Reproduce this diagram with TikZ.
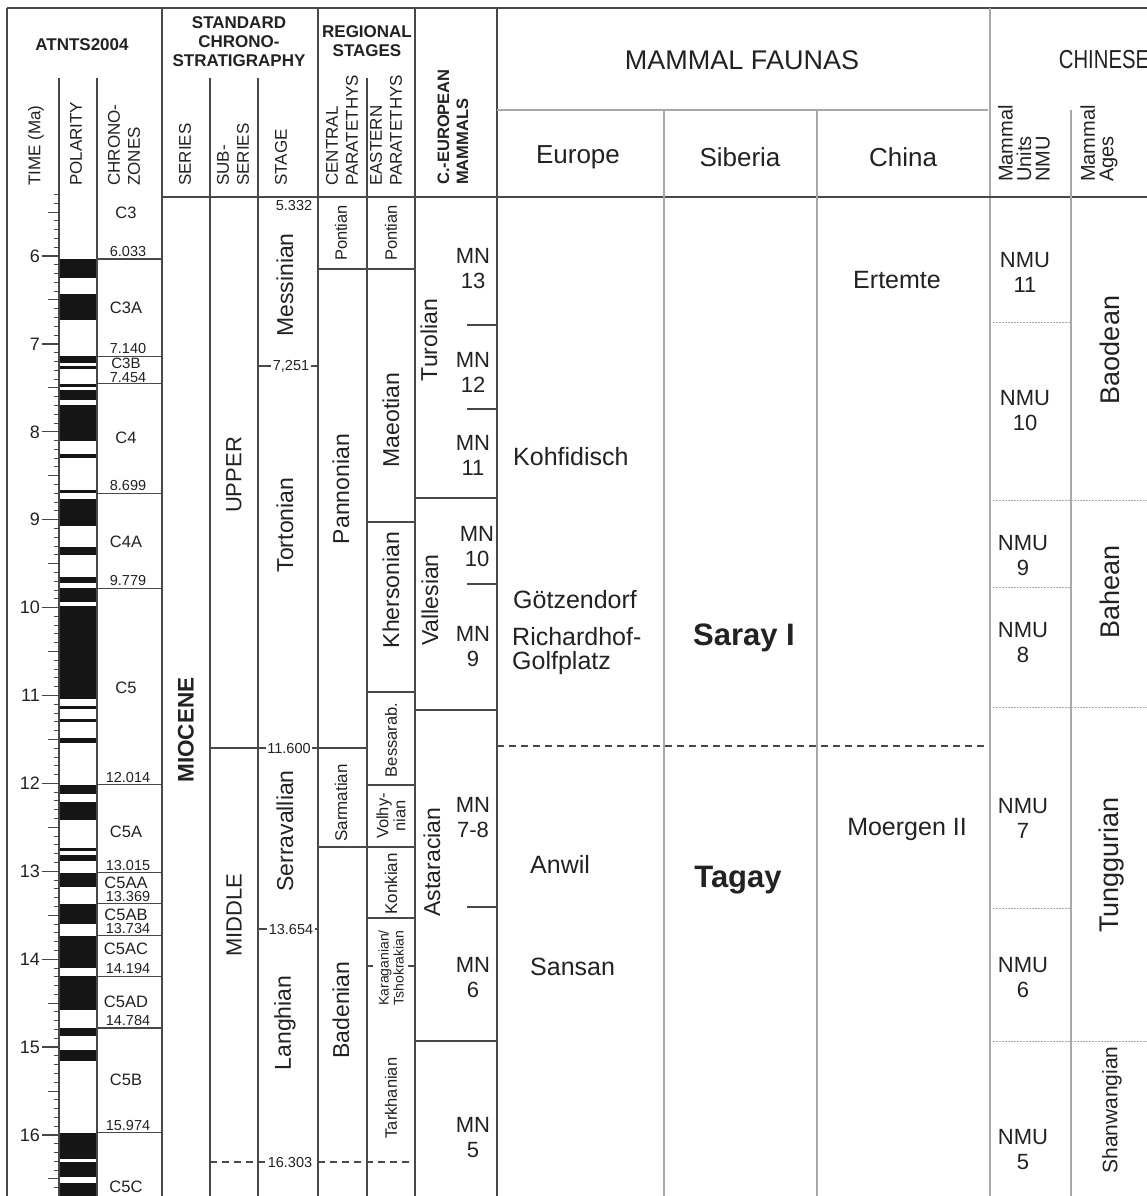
\documentclass[tikz,border=0pt]{standalone}
\usepackage{fontspec}
\setmainfont{Liberation Sans}
\definecolor{lc}{HTML}{484848}
\definecolor{lg}{HTML}{A8A8A8}
\definecolor{tc}{HTML}{222222}
\definecolor{pc}{HTML}{151515}
\newcommand\fz[2]{\fontsize{#1}{#2}\selectfont}
\newcommand\tpos[1]{(256+(#1-6)*87.9)}
\begin{document}
\begin{tikzpicture}[x=1pt,y=-1pt,
  ln/.style={draw=lc,line width=1.3pt},
  lgl/.style={draw=lg,line width=1.6pt},
  dotl/.style={draw=lg,line width=1pt,dash pattern=on 1.5pt off 1.5pt},
  dsh/.style={draw=lc,line width=1.3pt,dash pattern=on 7pt off 5pt},
  txt/.style={text=tc,inner sep=0pt,align=center},
  hb/.style={txt,font=\bfseries\fz{17}{19}},
  hv/.style={txt,rotate=90,anchor=west,align=left,font=\fz{17}{20}},
  num/.style={txt,anchor=base,font=\fz{14.5}{15}},
  chr/.style={txt,font=\fz{16.5}{18}},
  tl/.style={txt,anchor=east,font=\fz{18}{18}},
  big/.style={txt,rotate=90,font=\fz{23}{24}},
  sml/.style={txt,rotate=90,font=\fz{16.5}{17}},
  mn/.style={txt,font=\fz{22}{25}},
  fa/.style={txt,font=\fz{25}{27}},
  fab/.style={txt,font=\bfseries\fz{31}{33}},
  age/.style={txt,rotate=90,font=\fz{27}{28}},
  cnd/.style={txt,rotate=90,anchor=west,align=left,font=\fz{20}{18.5}},
  lab/.style={txt,fill=white,inner xsep=1.5pt,inner ysep=0pt,font=\fz{14.5}{15}}
]
\useasboundingbox (0,0) rectangle (1147,1196);
\fill[white] (0,0) rectangle (1147,1196);

% ---------- polarity ----------
\foreach \a/\b in {6.033/6.252,6.436/6.733,7.140/7.212,7.251/7.285,7.454/7.489,7.528/7.642,7.695/8.108,8.254/8.300,8.661/8.699,8.769/9.070,9.31/9.40,9.65/9.72,9.779/9.934,9.987/11.040,11.118/11.154,11.27/11.30,11.48/11.54,12.014/12.116,12.207/12.415,12.730/12.765,12.820/12.878,13.015/13.183,13.369/13.605,13.734/14.095,14.194/14.581,14.784/14.877,15.032/15.160,15.974/16.268,16.303/16.472,16.543/16.75}
  \fill[pc] (59,{\tpos{\a}}) rectangle (97,{\tpos{\b}});

% ---------- time ticks ----------
\foreach \i in {53,...,167} \draw[lc,line width=1pt] (54,{\tpos{\i/10}}) -- (59,{\tpos{\i/10}});
\foreach \t in {5.5,6.5,7.5,8.5,9.5,10.5,11.5,12.5,13.5,14.5,15.5,16.5} \draw[lc,line width=1pt] (48,{\tpos{\t}}) -- (59,{\tpos{\t}});
\foreach \t in {6,...,16} {
  \draw[lc,line width=1.3pt] (42,{\tpos{\t}}) -- (59,{\tpos{\t}});
  \node[tl] (tk\t) at (40,{\tpos{\t}}) {\t};
}

% ---------- frame ----------
\draw[ln] (7,8) -- (1147,8);
\draw[ln] (7,8) -- (7,1196);
\draw[ln] (162,8) -- (162,1196);
\draw[ln] (318,8) -- (318,1196);
\draw[ln] (415,8) -- (415,1196);
\draw[ln] (497,8) -- (497,1196);
\draw[lgl] (990,8) -- (990,1196);
\draw[ln] (59,78) -- (59,1196);
\draw[ln] (97,78) -- (97,1196);
\draw[ln] (210,78) -- (210,1196);
\draw[ln] (258,78) -- (258,1196);
\draw[ln] (367,78) -- (367,1196);
\draw[ln] (162,197) -- (1147,197);
\draw[lgl] (497,110) -- (988,110);
\draw[lgl] (664,110) -- (664,1196);
\draw[lgl] (817,110) -- (817,1196);
\draw[lgl] (1071,110) -- (1071,1196);

% ---------- header texts ----------
\node[hb] (hatn) at (82,45) {ATNTS2004};
\node[hb] (hstd) at (239,42) {STANDARD\\CHRONO-\\STRATIGRAPHY};
\node[hb] (hreg) at (367,41) {REGIONAL\\STAGES};
\node[hv] (htime) at (36,186) {TIME (Ma)};
\node[hv] (hpol) at (76,186) {POLARITY};
\node[hv] (hchr) at (124,186) {CHRONO-\\ZONES};
\node[hv] (hser) at (185,186) {SERIES};
\node[hv] (hsub) at (233,186) {SUB-\\SERIES};
\node[hv] (hstg) at (281,186) {STAGE};
\node[hv] (hcp) at (342,186) {CENTRAL\\PARATETHYS};
\node[hv] (hep) at (386,186) {EASTERN\\PARATETHYS};
\node[txt,rotate=90,anchor=west,align=left,font=\bfseries\fz{16.5}{19}] (hcem) at (453,185) {C.-EUROPEAN\\MAMMALS};
\node[txt,font=\fz{27}{28}] (hmf) at (742,60) {MAMMAL FAUNAS};
\node[txt,font=\fz{26}{28}] (hchn) at (1104,60) {\scalebox{0.78}[1]{CHINESE}};
\node[txt,font=\fz{26}{28}] (heu) at (578,157) {Europe};
\node[txt,font=\fz{26}{28}] (hsi) at (740,157) {Siberia};
\node[txt,font=\fz{26}{28}] (hch) at (903,157) {China};
\node[cnd] (hnmu) at (1024,182) {Mammal\\Units\\NMU};
\node[cnd] (hage) at (1099,182) {Mammal\\Ages};

% ---------- chronozones ----------
\foreach \t [count=\k] in {6.033,7.140,8.699,9.779,12.014,13.015,13.369,13.734,14.194,14.784,15.974} {
  \draw[ln] (97,{\tpos{\t}}) -- (162,{\tpos{\t}});
  \node[num] (cn\k) at (128,{\tpos{\t}-2.5}) {\t};
}
\draw[ln] (97,{\tpos{7.454}}) -- (162,{\tpos{7.454}});
\node[num] (cnb) at (128,{\tpos{7.454}-1}) {7.454};
\foreach \n/\y [count=\k] in {C3/213,C3A/308,C4/438,C4A/542,C5/688,C5A/832,C5AA/883,C5AB/915,C5AC/949,C5AD/1002,C5B/1080,C5C/1187}
  \node[chr] (cz\k) at (126,\y) {\n};
\node[chr,font=\fz{15}{16}] (czb) at (126,363) {C3B};

% ---------- series / subseries / stage ----------
\node[txt,rotate=90,font=\bfseries\fz{22.5}{24}] (miocene) at (186,730) {MIOCENE};
\node[txt,rotate=90,font=\fz{22}{24}] (upper) at (234,475) {UPPER};
\node[txt,rotate=90,font=\fz{22}{24}] (middle) at (234,915) {MIDDLE};
\node[lab] (a5332) at (294,206) {5.332};
\draw[ln] (258,366) -- (318,366);
\node[lab] (a7251) at (291,366) {7,251};
\draw[ln] (210,748) -- (367,748);
\node[lab] (a11600) at (289,748) {11.600};
\draw[ln] (258,929) -- (318,929);
\node[lab] (a13654) at (291,929) {13.654};
\draw[dsh] (210,1162) -- (415,1162);
\node[lab] (a16303) at (290,1162) {16.303};
\node[big] (messinian) at (285,285) {Messinian};
\node[big] (tortonian) at (285,525) {Tortonian};
\node[big] (serravallian) at (285,831) {Serravallian};
\node[big] (langhian) at (285,1023) {Langhian};

% ---------- regional stages ----------
\draw[ln] (318,269) -- (415,269);
\draw[ln] (367,522) -- (415,522);
\draw[ln] (367,692) -- (415,692);
\draw[ln] (367,785) -- (415,785);
\draw[ln] (318,847) -- (415,847);
\draw[ln] (367,918) -- (415,918);
\draw[ln] (367,966) -- (373,966);
\draw[ln] (408,966) -- (415,966);
\node[sml] (pontc) at (341,233) {Pontian};
\node[big] (pannon) at (341,489) {Pannonian};
\node[sml,font=\fz{17}{18}] (sarm) at (341,803) {Sarmatian};
\node[big] (baden) at (341,1010) {Badenian};
\node[sml] (ponte) at (391,233) {Pontian};
\node[big] (maeot) at (391,420) {Maeotian};
\node[big] (kherson) at (391,590) {Khersonian};
\node[sml] (bessar) at (391,740) {Bessarab.};
\node[sml] (volhy) at (391,816) {Volhy-\\nian};
\node[sml,font=\fz{17}{18}] (konk) at (391,884) {Konkian};
\node[txt,rotate=90,font=\fz{14}{15}] (karag) at (391,968) {Karaganian/\\Tshokrakian};
\node[sml] (tarkh) at (391,1098) {Tarkhanian};

% ---------- C.-European mammals ----------
\draw[ln] (467,325) -- (497,325);
\draw[ln] (467,409) -- (497,409);
\draw[ln] (415,498) -- (497,498);
\draw[ln] (467,584) -- (497,584);
\draw[ln] (415,710) -- (497,710);
\draw[ln] (467,907) -- (497,907);
\draw[ln] (415,1041) -- (497,1041);
\node[big] (turol) at (429,340) {Turolian};
\node[big] (valles) at (430,600) {Vallesian};
\node[big] (astar) at (432,862) {Astaracian};
\node[mn] (mn13) at (473,269) {MN\\13};
\node[mn] (mn12) at (473,372) {MN\\12};
\node[mn] (mn11) at (473,455) {MN\\11};
\node[mn] (mn10) at (477,547) {MN\\10};
\node[mn] (mn9) at (473,647) {MN\\9};
\node[mn] (mn78) at (473,818) {MN\\7-8};
\node[mn] (mn6) at (473,978) {MN\\6};
\node[mn] (mn5) at (473,1138) {MN\\5};

% ---------- mammal faunas ----------
\draw[dsh] (497,746) -- (988,746);
\node[fa] (ertemte) at (897,280) {Ertemte};
\node[fa,anchor=west] (kohf) at (513,457) {Kohfidisch};
\node[fa,anchor=west] (goetz) at (513,600) {Götzendorf};
\node[fa,anchor=west] (richard) at (512,637) {Richardhof-};
\node[fa,anchor=west] (golf) at (512,663) {Golfplatz};
\node[fab] (saray) at (744,638) {Saray I};
\node[fa,anchor=west] (anwil) at (530,864) {Anwil};
\node[fa,anchor=west] (sansan) at (530,967) {Sansan};
\node[fab] (tagay) at (738,880) {Tagay};
\node[fa] (moergen) at (907,829) {Moergen II};

% ---------- Chinese ----------
\draw[dotl] (993,322) -- (1071,322);
\draw[dotl] (993,500) -- (1147,500);
\draw[dotl] (993,587) -- (1071,587);
\draw[dotl] (993,707) -- (1147,707);
\draw[dotl] (993,908) -- (1071,908);
\draw[dotl] (993,1041) -- (1147,1041);
\node[mn] (nmu11) at (1025,272) {NMU\\11};
\node[mn] (nmu10) at (1025,411) {NMU\\10};
\node[mn] (nmu9) at (1023,556) {NMU\\9};
\node[mn] (nmu8) at (1023,643) {NMU\\8};
\node[mn] (nmu7) at (1023,818) {NMU\\7};
\node[mn] (nmu6) at (1023,978) {NMU\\6};
\node[mn] (nmu5) at (1023,1150) {NMU\\5};
\node[age] (baodean) at (1110,350) {Baodean};
\node[age] (bahean) at (1110,592) {Bahean};
\node[age] (tungg) at (1112,865) {Tunggurian};
\node[txt,rotate=90,font=\fz{21}{22}] (shanw) at (1112,1110) {Shanwangian};
\end{tikzpicture}
\end{document}
